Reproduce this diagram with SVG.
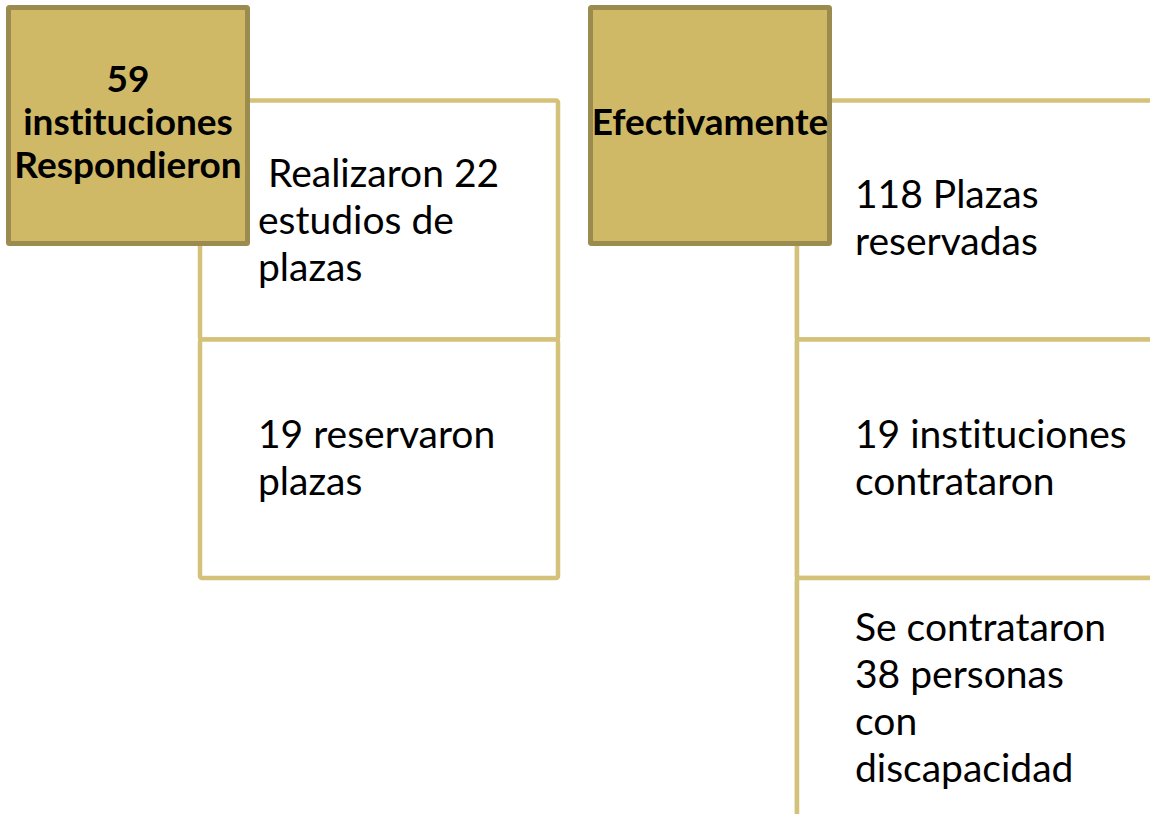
<svg xmlns="http://www.w3.org/2000/svg" width="1150" height="814" viewBox="0 0 1150 814">
<style>
.cell{fill:#ffffff;stroke:#d5c27a;stroke-width:4.5}
.box{fill:#cfb967;stroke:#9c8b4e;stroke-width:5}
.bt{font-family:Lato,"Liberation Sans",sans-serif;font-weight:bold;font-size:37px;fill:#000;text-anchor:middle;font-variant-ligatures:none}
.t{font-family:Lato,"Liberation Sans",sans-serif;font-size:39px;fill:#000;font-variant-ligatures:none}
</style>
<rect width="1150" height="814" fill="#ffffff"/>
<g id="connectors">
<line x1="797" y1="246" x2="797" y2="814" stroke="#d5c27a" stroke-width="4.5"/>
</g>
<g id="cell-estudios">
<rect class="cell" x="200" y="100.5" width="358" height="239" rx="2"/>
<text class="t" xml:space="preserve"><tspan x="258" y="187"> Realizaron 22</tspan><tspan x="258" y="234">estudios de</tspan><tspan x="258" y="281">plazas</tspan></text>
</g>
<g id="cell-reservaron">
<rect class="cell" x="200" y="339.5" width="358" height="238.5" rx="2"/>
<text class="t"><tspan x="258" y="448">19 reservaron</tspan><tspan x="258" y="495">plazas</tspan></text>
</g>
<g id="node-59">
<rect class="box" x="8.5" y="7.5" width="239" height="236" rx="1"/>
<text class="bt"><tspan x="128" y="92">59</tspan><tspan x="128" y="135">instituciones</tspan><tspan x="128" y="178">Respondieron</tspan></text>
</g>
<g id="cell-plazas">
<rect class="cell" x="797" y="100.5" width="400" height="239" rx="2"/>
<text class="t"><tspan x="855" y="208">118 Plazas</tspan><tspan x="855" y="255">reservadas</tspan></text>
</g>
<g id="cell-contrataron">
<rect class="cell" x="797" y="339.5" width="400" height="238.5" rx="2"/>
<text class="t"><tspan x="855" y="448">19 instituciones</tspan><tspan x="855" y="495">contrataron</tspan></text>
</g>
<g id="cell-personas">
<rect class="cell" x="797" y="578" width="400" height="300" rx="2"/>
<text class="t"><tspan x="855" y="641">Se contrataron</tspan><tspan x="855" y="688">38 personas</tspan><tspan x="855" y="735">con</tspan><tspan x="855" y="782">discapacidad</tspan></text>
</g>
<g id="node-efectivamente">
<rect class="box" x="590.5" y="7.5" width="239" height="236" rx="1"/>
<text class="bt"><tspan x="710" y="135">Efectivamente</tspan></text>
</g>
</svg>
